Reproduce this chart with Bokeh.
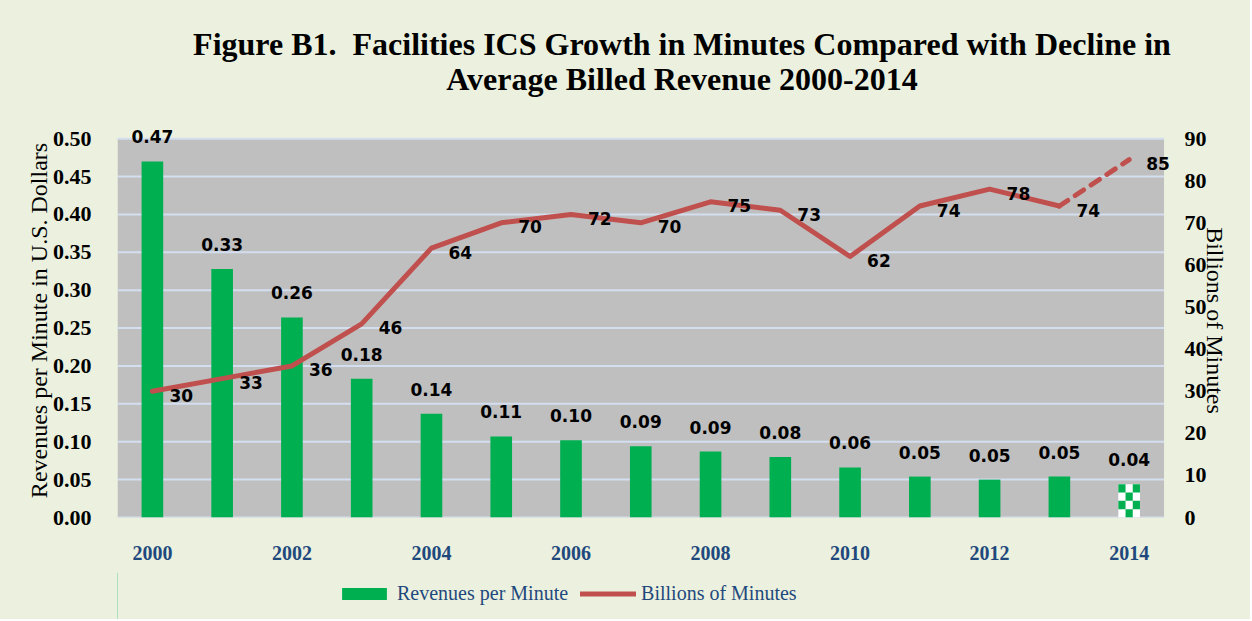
from bokeh.plotting import figure
from bokeh.models import (ColumnDataSource, LinearAxis, Range1d, FixedTicker, LabelSet,
                          Legend, LegendItem, NumeralTickFormatter, BoxAnnotation, Div)
from bokeh.core.properties import value
from bokeh.layouts import column
from bokeh.embed import file_html
from bokeh.resources import INLINE

# ---------------- data ----------------
years = [2000, 2001, 2002, 2003, 2004, 2005, 2006, 2007, 2008, 2009, 2010, 2011, 2012, 2013, 2014]
revenue_per_minute = [0.47, 0.328, 0.264, 0.183, 0.137, 0.107, 0.102, 0.094, 0.087, 0.080,
                      0.066, 0.054, 0.050, 0.054, 0.044]
revenue_labels = ["0.47", "0.33", "0.26", "0.18", "0.14", "0.11", "0.10", "0.09", "0.09", "0.08",
                  "0.06", "0.05", "0.05", "0.05", "0.04"]
billions_of_minutes = [30, 33, 36, 46, 64, 70, 72, 70, 75, 73, 62, 74, 78, 74, 85]
minutes_labels = [str(v) for v in billions_of_minutes]
x_tick_years = [2000, 2002, 2004, 2006, 2008, 2010, 2012, 2014]
left_ticks = [0.0, 0.05, 0.10, 0.15, 0.20, 0.25, 0.30, 0.35, 0.40, 0.45, 0.50]
right_ticks = [0, 10, 20, 30, 40, 50, 60, 70, 80, 90]
title_line1 = "Figure B1.&nbsp; Facilities ICS Growth in Minutes Compared with Decline in"
title_line2 = "Average Billed Revenue 2000-2014"
series_names = ["Revenues per Minute", "Billions of Minutes"]

GREEN = "#00b050"
RED = "#c0504d"
NAVY = "#1f497d"
BG = "#ebf1de"
PLOT_GRAY = "#bfbfbf"
GRID = "#d3def0"
SERIF = "Liberation Serif"
SANS = "DejaVu Sans"
BAR_W = 0.31
LEFT_MAX = 0.5
RIGHT_MAX = 90
HEADROOM = 1.04   # frame slightly taller than the gray plot area (room for top label)
X_LO, X_HI = 1999.5, 2014.5
X_PAD = 0.15      # frame slightly wider on the right (room for last label)
W = 1250

# ---------------- title ----------------
title_div = Div(
    text=('<div style="font-family:\'Liberation Serif\'; font-weight:bold; font-size:32px; '
          'line-height:35px; color:black; text-align:center; box-sizing:border-box; '
          'padding-left:114px; padding-top:27px; width:1250px;">'
          + title_line1 + '<br>' + title_line2 + '</div>'),
    width=W, height=100, styles={"background-color": BG}, margin=0)

# ---------------- main figure ----------------
p = figure(width=W, height=472, x_range=Range1d(X_LO, X_HI + X_PAD),
           y_range=Range1d(0, LEFT_MAX * HEADROOM),
           output_backend="svg", toolbar_location=None, margin=0,
           min_border_left=117, min_border_right=76, min_border_top=23, min_border_bottom=55)
p.background_fill_color = BG
p.border_fill_color = BG
p.outline_line_color = None
p.extra_y_ranges = {"minutes": Range1d(0, RIGHT_MAX * HEADROOM)}

p.add_layout(BoxAnnotation(bottom=0, top=LEFT_MAX, left=X_LO, right=X_HI, fill_color=PLOT_GRAY,
                           fill_alpha=1, line_color=None, level="image"))

# grid lines limited to the gray plot area
p.xgrid.visible = False
p.ygrid.visible = False
p.segment(x0=[X_LO] * len(left_ticks), x1=[X_HI] * len(left_ticks), y0=left_ticks, y1=left_ticks,
          line_color=GRID, line_width=2, level="underlay")

# left axis
ya = p.yaxis[0]
ya.ticker = FixedTicker(ticks=left_ticks)
ya.formatter = NumeralTickFormatter(format="0.00")
ya.major_label_text_font = SERIF
ya.major_label_text_font_style = "bold"
ya.major_label_text_font_size = "22px"
ya.major_label_text_color = "black"
ya.major_label_standoff = 20
ya.axis_line_color = None
ya.major_tick_line_color = None
ya.minor_tick_line_color = None
ya.axis_label = "Revenues per Minute in U.S. Dollars"
ya.axis_label_text_font = SERIF
ya.axis_label_text_font_style = "normal"
ya.axis_label_text_font_size = "24px"
ya.axis_label_text_color = "black"
ya.axis_label_standoff = -2

# right axis
ra = LinearAxis(y_range_name="minutes", ticker=FixedTicker(ticks=right_ticks))
ra.major_label_text_font = SERIF
ra.major_label_text_font_style = "bold"
ra.major_label_text_font_size = "22px"
ra.major_label_text_color = "black"
ra.major_label_standoff = 4
ra.axis_line_color = None
ra.major_tick_line_color = None
ra.minor_tick_line_color = None
ra.axis_label = "Billions of Minutes"
ra.axis_label_text_font = SERIF
ra.axis_label_text_font_style = "normal"
ra.axis_label_text_font_size = "24px"
ra.axis_label_text_color = "black"
ra.axis_label_standoff = -8
p.add_layout(ra, "right")

# x axis
xa = p.xaxis[0]
xa.ticker = FixedTicker(ticks=x_tick_years)
xa.major_label_text_font = SERIF
xa.major_label_text_font_style = "bold"
xa.major_label_text_font_size = "20px"
xa.major_label_text_color = NAVY
xa.major_label_standoff = 22
xa.axis_line_color = None
xa.major_tick_line_color = None
xa.minor_tick_line_color = None

# bars (actual years)
bar_src = ColumnDataSource(dict(x=years[:-1], top=revenue_per_minute[:-1]))
p.vbar(x="x", top="top", width=BAR_W, source=bar_src, fill_color=GREEN, line_color=None)

# estimated bar (checkered), built from the last data value
est_src = ColumnDataSource(dict(x=years[-1:], top=revenue_per_minute[-1:]))
p.vbar(x="x", top="top", width=BAR_W, source=est_src, fill_color="white", line_color=None)
n_cols, n_rows = 3, 4
cw = BAR_W / n_cols
ch = revenue_per_minute[-1] / n_rows
cx, cy = [], []
for i in range(n_cols):
    for j in range(n_rows):
        if (i + j) % 2 == 1:
            cx.append(years[-1] - BAR_W / 2 + (i + 0.5) * cw)
            cy.append((j + 0.5) * ch)
p.rect(x=cx, y=cy, width=cw, height=ch, fill_color=GREEN, line_color=None)

# line
p.line(years[:-1], billions_of_minutes[:-1], y_range_name="minutes", line_color=RED,
       line_width=5, line_cap="round", line_join="round")
p.line(years[-2:], billions_of_minutes[-2:], y_range_name="minutes", line_color=RED,
       line_width=5, line_cap="round", line_dash="10 9")

# labels
lab_src = ColumnDataSource(dict(x=years, top=revenue_per_minute, lab=revenue_labels,
                                m=billions_of_minutes, mlab=minutes_labels))
p.add_layout(LabelSet(x="x", y="top", text="lab", source=lab_src, text_align="center",
                      text_baseline="bottom", y_offset=18, text_font=value(SANS),
                      text_font_style="bold", text_font_size="17px", text_color="black"))
p.add_layout(LabelSet(x="x", y="m", text="mlab", source=lab_src, y_range_name="minutes",
                      text_align="left", text_baseline="middle", x_offset=17, y_offset=-4,
                      text_font=value(SANS), text_font_style="bold", text_font_size="17px",
                      text_color="black"))

# ---------------- legend strip ----------------
lg = figure(width=W, height=47, x_range=Range1d(0, 1), y_range=Range1d(0, 1),
            output_backend="svg", toolbar_location=None, margin=0,
            x_axis_type=None, y_axis_type=None,
            min_border_left=0, min_border_right=0, min_border_top=0, min_border_bottom=0)
lg.background_fill_color = None
lg.border_fill_color = None
lg.outline_line_color = None
lg.grid.visible = False
# key glyphs only (placed outside the visible range)
bar_key = lg.vbar(x=[-5], top=[1], width=0.1, fill_color=GREEN, line_color=None)
line_key = lg.line(x=[-5, -4], y=[0.5, 0.5], line_color=RED, line_width=5, line_cap="round")
legend = Legend(items=[LegendItem(label=series_names[0], renderers=[bar_key]),
                       LegendItem(label=series_names[1], renderers=[line_key])],
                orientation="horizontal", location=(219, 14))
legend.background_fill_alpha = 0
legend.border_line_alpha = 0
legend.label_text_font = SERIF
legend.label_text_font_size = "20px"
legend.label_text_color = NAVY
legend.glyph_width = 56
legend.glyph_height = 15
legend.label_standoff = 5
legend.spacing = 12
legend.padding = 0
legend.margin = 0
lg.add_layout(legend, "center")

layout = column(title_div, p, lg, spacing=0, styles={"background-color": BG})
open("out.html", "w").write(file_html(layout, INLINE))
